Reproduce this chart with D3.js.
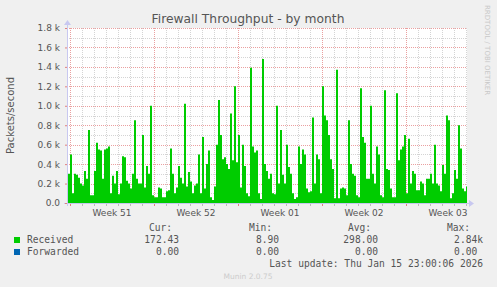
<!DOCTYPE html>
<html>
<head>
<meta charset="utf-8">
<script src="https://d3js.org/d3.v7.min.js"></script>
<style>
  body { margin: 0; background: #f0f0f0; }
  svg { display: block; }
  .mono { font-family: "DejaVu Sans Mono", monospace; font-size: 9.6px; fill: #555; white-space: pre; }
  .sans { font-family: "DejaVu Sans", sans-serif; fill: #555; }
</style>
</head>
<body>
<svg id="chart" width="497" height="287"></svg>
<script>
// Received packets/s, one reading every 4 hours starting 2025-12-14 20:00 UTC
var startTime = "2025-12-14T20:00:00Z";
var stepHours = 4;
var received = [
  300, 500, 100, 300, 290, 260, 200, 180, 330, 250,
  750, 80, 80, 330, 620, 550, 540, 250, 550, 560,
  580, 100, 280, 200, 330, 90, 200, 480, 470, 230,
  200, 150, 300, 850, 250, 200, 200, 700, 160, 380,
  300, 1000, 80, 60, 60, 160, 150, 60, 60, 120,
  130, 560, 300, 100, 160, 380, 260, 200, 1020, 170,
  320, 220, 100, 180, 200, 500, 100, 680, 150, 400,
  540, 60, 30, 170, 600, 1060, 700, 450, 470, 400,
  350, 920, 440, 1200, 420, 700, 160, 600, 380, 100,
  70, 1390, 580, 520, 540, 100, 40, 1480, 400, 330,
  250, 300, 100, 90, 1000, 200, 750, 290, 200, 600,
  370, 300, 100, 40, 60, 580, 400, 550, 500, 150,
  110, 120, 880, 200, 500, 450, 100, 1200, 900, 850,
  700, 450, 350, 50, 1370, 50, 150, 160, 150, 80,
  850, 400, 300, 280, 80, 60, 1180, 680, 620, 250,
  250, 1000, 300, 200, 580, 500, 80, 60, 1160, 350,
  340, 150, 60, 60, 1130, 440, 550, 580, 700, 100,
  660, 200, 330, 300, 130, 130, 220, 200, 80, 250,
  250, 300, 200, 600, 200, 180, 120, 390, 300, 900,
  850, 50, 100, 340, 250, 800, 560, 150, 120, 170
];

var weekLabels = ["Week 51", "Week 52", "Week 01", "Week 02", "Week 03"];
var weekStarts = ["2025-12-15", "2025-12-22", "2025-12-29", "2026-01-05", "2026-01-12"];

var seriesNames = ["Received", "Forwarded"];
var seriesColors = ["#00cc00", "#0066b3"];
var curVals = ["172.43", "0.00"];
var minVals = ["8.90", "0.00"];
var avgVals = ["298.00", "0.00"];
var maxVals = ["2.84k", "0.00 "];

var yTicks = [0, 200, 400, 600, 800, 1000, 1200, 1400, 1600, 1800];

var svg = d3.select("#chart");
var pLeft = 67, pRight = 467, pTop = 28, pBottom = 203;

var x = d3.scaleUtc()
    .domain([new Date("2025-12-14T18:00:00Z"), new Date("2026-01-17T02:00:00Z")])
    .range([pLeft, pRight]);
var y = d3.scaleLinear().domain([0, 1800]).range([pBottom, pTop]);

var t0 = new Date(startTime).getTime();
var data = received.map(function(v, i) {
    return { t: new Date(t0 + i * stepHours * 3600000), v: v };
});
// last step has to reach the right edge
data.push({ t: x.domain()[1], v: received[received.length - 1] });

// plot background
svg.append("rect")
    .attr("x", pLeft).attr("y", pTop)
    .attr("width", pRight - pLeft).attr("height", pBottom - pTop)
    .attr("fill", "#ffffff");

// minor grid
var days = x.ticks(d3.utcDay.every(1));
svg.append("g").selectAll("line").data(days).enter().append("line")
    .attr("x1", function(d) { return Math.round(x(d)) + 0.5; })
    .attr("x2", function(d) { return Math.round(x(d)) + 0.5; })
    .attr("y1", pTop).attr("y2", pBottom)
    .attr("stroke", "#d4d4d4").attr("stroke-dasharray", "1,1");
var yMinor = d3.range(100, 1800, 200);
svg.append("g").selectAll("line").data(yMinor).enter().append("line")
    .attr("x1", pLeft).attr("x2", pRight)
    .attr("y1", function(d) { return Math.round(y(d)) + 0.5; })
    .attr("y2", function(d) { return Math.round(y(d)) + 0.5; })
    .attr("stroke", "#d4d4d4").attr("stroke-dasharray", "1,1");

// major grid
var weeks = weekStarts.map(function(s) { return new Date(s + "T00:00:00Z"); });
svg.append("g").selectAll("line").data(weeks).enter().append("line")
    .attr("x1", function(d) { return Math.round(x(d)) + 0.5; })
    .attr("x2", function(d) { return Math.round(x(d)) + 0.5; })
    .attr("y1", pTop).attr("y2", pBottom)
    .attr("stroke", "#eaa0a0").attr("stroke-dasharray", "1,1");
svg.append("g").selectAll("line").data(yTicks.slice(1)).enter().append("line")
    .attr("x1", pLeft).attr("x2", pRight)
    .attr("y1", function(d) { return Math.round(y(d)) + 0.5; })
    .attr("y2", function(d) { return Math.round(y(d)) + 0.5; })
    .attr("stroke", "#eaa0a0").attr("stroke-dasharray", "1,1");

// the area, stepped like rrdtool draws it
var area = d3.area()
    .curve(d3.curveStepAfter)
    .x(function(d) { return x(d.t); })
    .y0(y(0))
    .y1(function(d) { return y(d.v); });
svg.append("path")
    .datum(data)
    .attr("d", area)
    .attr("fill", "#00cc00");

// axis lines + arrows
svg.append("line").attr("x1", pLeft - 3).attr("x2", pRight + 3)
    .attr("y1", pBottom + 0.5).attr("y2", pBottom + 0.5).attr("stroke", "#c8c8f0");
svg.append("line").attr("x1", pLeft + 0.5).attr("x2", pLeft + 0.5)
    .attr("y1", pBottom + 3).attr("y2", pTop - 4).attr("stroke", "#c8c8f0");
svg.append("path").attr("d", "M" + (pRight + 2) + "," + (pBottom - 3) + "L" + (pRight + 7) + "," + (pBottom + 0.5) + "L" + (pRight + 2) + "," + (pBottom + 4) + "Z")
    .attr("fill", "#c8c8f0");
svg.append("path").attr("d", "M" + (pLeft - 3) + "," + (pTop - 3) + "L" + (pLeft + 0.5) + "," + (pTop - 8) + "L" + (pLeft + 4) + "," + (pTop - 3) + "Z")
    .attr("fill", "#c8c8f0");

// x axis ticks (days grey, weeks red)
svg.append("g")
    .attr("transform", "translate(0," + (pBottom + 1) + ")")
    .call(d3.axisBottom(x).tickValues(days).tickSize(2).tickFormat(""))
    .call(function(g) { g.select(".domain").remove(); g.selectAll("line").attr("stroke", "#bbbbbb"); });
svg.append("g")
    .attr("transform", "translate(0," + (pBottom + 1) + ")")
    .call(d3.axisBottom(x).tickValues(weeks).tickSize(2).tickFormat(""))
    .call(function(g) { g.select(".domain").remove(); g.selectAll("line").attr("stroke", "#e08080"); });

// week labels, centred in each week
svg.append("g").selectAll("text").data(weeks).enter().append("text")
    .attr("class", "sans")
    .attr("font-size", "9px")
    .attr("text-anchor", "middle")
    .attr("x", function(d) { return x(d3.utcHour.offset(d, 84)); })
    .attr("y", 216)
    .text(function(d, i) { return weekLabels[i]; });

// y axis labels
svg.append("g")
    .attr("transform", "translate(" + pLeft + ",0)")
    .call(d3.axisLeft(y).tickValues(yTicks).tickSize(2)
        .tickFormat(function(v) { return v === 0 ? "0.0" : (v / 1000).toFixed(1) + " k"; }))
    .call(function(g) {
        g.select(".domain").remove();
        g.selectAll("line").attr("stroke", "#e08080");
        g.selectAll("text").attr("class", "sans").attr("font-size", "9px").attr("fill", "#555").attr("x", -7);
    });

// titles
svg.append("text").attr("class", "sans")
    .attr("x", 248).attr("y", 23).attr("text-anchor", "middle")
    .attr("font-size", "12.3px").attr("fill", "#606060")
    .text("Firewall Throughput - by month");
svg.append("text").attr("class", "sans")
    .attr("transform", "translate(14," + ((pTop + pBottom) / 2) + ") rotate(-90)")
    .attr("text-anchor", "middle").attr("font-size", "10px")
    .text("Packets/second");
svg.append("text")
    .attr("transform", "translate(485,5) rotate(90)")
    .attr("font-family", "DejaVu Sans, sans-serif").attr("font-size", "7px")
    .attr("fill", "#c8c8c8")
    .text("RRDTOOL / TOBI OETIKER");

// legend
var headers = [["Cur:", 172], ["Min:", 272], ["Avg:", 371], ["Max:", 470]];
svg.append("g").selectAll("text").data(headers).enter().append("text")
    .attr("class", "mono").attr("text-anchor", "end")
    .attr("x", function(d) { return d[1]; }).attr("y", 231)
    .text(function(d) { return d[0]; });

var rows = svg.append("g").selectAll("g").data(seriesNames).enter().append("g")
    .attr("transform", function(d, i) { return "translate(0," + (243 + i * 12) + ")"; });
rows.append("rect").attr("x", 14).attr("y", -6).attr("width", 6).attr("height", 6)
    .attr("fill", function(d, i) { return seriesColors[i]; });
rows.append("text").attr("class", "mono").attr("x", 27).attr("y", 0)
    .text(function(d) { return d; });
rows.append("text").attr("class", "mono").attr("text-anchor", "end").attr("x", 179)
    .text(function(d, i) { return curVals[i]; });
rows.append("text").attr("class", "mono").attr("text-anchor", "end").attr("x", 279)
    .text(function(d, i) { return minVals[i]; });
rows.append("text").attr("class", "mono").attr("text-anchor", "end").attr("x", 378)
    .text(function(d, i) { return avgVals[i]; });
rows.append("text").attr("class", "mono").attr("text-anchor", "end").attr("x", 483)
    .attr("xml:space", "preserve")
    .text(function(d, i) { return maxVals[i]; });

svg.append("text").attr("class", "mono").attr("text-anchor", "end")
    .attr("x", 483).attr("y", 267)
    .text("Last update: Thu Jan 15 23:00:06 2026");
svg.append("text")
    .attr("x", 248).attr("y", 279).attr("text-anchor", "middle")
    .attr("font-family", "DejaVu Sans, sans-serif").attr("font-size", "7.5px")
    .attr("fill", "#cccccc")
    .text("Munin 2.0.75");
</script>
</body>
</html>
